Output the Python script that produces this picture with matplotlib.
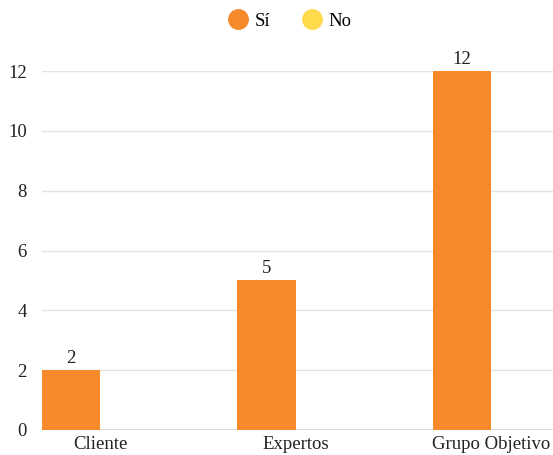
import numpy as np
import matplotlib.pyplot as plt
from matplotlib.lines import Line2D

plt.rcParams['font.family'] = ['Liberation Serif', 'DejaVu Serif']

categories = ['Cliente', 'Expertos', 'Grupo Objetivo']
si = [2, 5, 12]
no = [0, 0, 0]
yticks = [0, 2, 4, 6, 8, 10, 12]

orange = '#F6892A'
yellow = '#FFDA4A'

fig = plt.figure(figsize=(5.53, 4.55), dpi=100)
ax = fig.add_axes([42/553, 25/455, 1 - 42/553, (430 - 71)/455])

x = np.arange(len(categories))
w = 0.297
ax.bar(x - w/2, si, w, color=orange, zorder=3)
ax.bar(x + w/2, no, w, color=yellow, zorder=3)

for xi, v in zip(x, si):
    ax.text(xi - w/2, v + 0.1, str(v), ha='center', va='bottom',
            fontsize=13.5, color='#222222', clip_on=False)

ax.set_xlim(-0.297, 2.317)
ax.set_ylim(0, 12)
ax.set_yticks(yticks)
ax.set_xticks(x)
ax.set_xticklabels(categories)
ax.tick_params(axis='both', length=0, labelsize=13.5, colors='#222222')
ax.tick_params(axis='y', pad=11)
ax.tick_params(axis='x', pad=4)
ax.grid(axis='y', color='#e3e3e3', linewidth=1, zorder=0)
for s in ax.spines.values():
    s.set_visible(False)
ax.axhline(0, color='#d6d6d6', linewidth=1.2, zorder=2)

handles = [Line2D([], [], marker='o', linestyle='', markersize=14, color=orange),
           Line2D([], [], marker='o', linestyle='', markersize=14, color=yellow)]
fig.legend(handles, ['Sí', 'No'], loc='center', bbox_to_anchor=(0.523, 1 - 21/455),
           ncol=2, frameon=False, fontsize=13.5, handletextpad=0.3,
           columnspacing=1.6, handlelength=1.2)

fig.savefig('out.png', dpi=100)
